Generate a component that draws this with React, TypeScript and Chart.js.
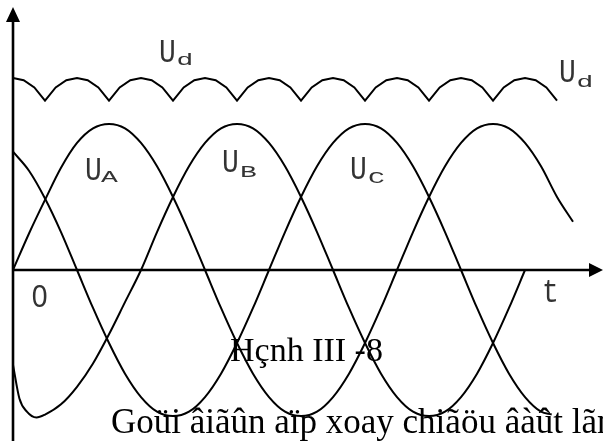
import React, { useEffect, useRef } from "react";
import { Chart, registerables } from "chart.js";

Chart.register(...registerables);

// electrical angle (degrees) and per-unit phase voltages
const ANGLES_UA = [0, 15, 30, 45, 60, 75, 90, 105, 120, 135, 150, 165, 180, 195, 210, 225, 240, 255, 270, 285, 300, 315, 330, 345, 360, 375, 390, 405, 420, 435, 450, 465, 480, 495, 510, 525];
const UA = [0, 0.25, 0.48, 0.7, 0.87, 0.97, 1, 0.97, 0.87, 0.71, 0.5, 0.26, 0, -0.26, -0.5, -0.71, -0.87, -0.97, -1, -0.97, -0.87, -0.71, -0.5, -0.26, 0, 0.26, 0.5, 0.71, 0.87, 0.97, 1, 0.97, 0.87, 0.71, 0.5, 0.33];

const ANGLES_UB = [0, 6, 13, 22, 30, 45, 60, 75, 90, 105, 120, 135, 150, 165, 180, 195, 210, 225, 240, 255, 270, 285, 300, 315, 330, 345, 360, 375, 390, 405, 420, 435, 450, 465, 480];
const UB = [-0.65, -0.88, -0.97, -1.01, -0.99, -0.92, -0.8, -0.64, -0.44, -0.22, 0, 0.26, 0.5, 0.71, 0.87, 0.97, 1, 0.97, 0.87, 0.71, 0.5, 0.26, 0, -0.26, -0.5, -0.71, -0.87, -0.97, -1, -0.97, -0.87, -0.71, -0.5, -0.26, 0];

const ANGLES_UC = [0, 15, 30, 45, 60, 75, 90, 105, 120, 135, 150, 165, 180, 195, 210, 225, 240, 255, 270, 285, 300, 315, 330, 345, 360, 375, 390, 405, 420, 435, 450, 465, 480, 495, 505];
const UC = [0.81, 0.68, 0.49, 0.26, 0, -0.26, -0.5, -0.71, -0.87, -0.97, -1, -0.97, -0.87, -0.71, -0.5, -0.26, 0, 0.26, 0.5, 0.71, 0.87, 0.97, 1, 0.97, 0.87, 0.71, 0.5, 0.26, 0, -0.26, -0.5, -0.71, -0.87, -0.97, -0.99];

const ANGLES_UD = [0, 10, 20, 30, 40, 50, 60, 70, 80, 90, 100, 110, 120, 130, 140, 150, 160, 170, 180, 190, 200, 210, 220, 230, 240, 250, 260, 270, 280, 290, 300, 310, 320, 330, 340, 350, 360, 370, 380, 390, 400, 410, 420, 430, 440, 450, 460, 470, 480, 490, 500, 510];
const UD = [
  1.315, 1.3, 1.25, 1.16, 1.25, 1.3,
  1.315, 1.3, 1.25, 1.16, 1.25, 1.3,
  1.315, 1.3, 1.25, 1.16, 1.25, 1.3,
  1.315, 1.3, 1.25, 1.16, 1.25, 1.3,
  1.315, 1.3, 1.25, 1.16, 1.25, 1.3,
  1.315, 1.3, 1.25, 1.16, 1.25, 1.3,
  1.315, 1.3, 1.25, 1.16, 1.25, 1.3,
  1.315, 1.3, 1.25, 1.16, 1.25, 1.3,
  1.315, 1.3, 1.25, 1.16,
];

const CAPTION = "Hçnh III -8";
const BODY_TEXT = "Goüi âiãûn aïp xoay chiãöu âàût lãn";

const X_MIN = -12.19;
const X_MAX = 553.1;
const Y_MIN = -1.171;
const Y_MAX = 1.849;

const toPts = (xs: number[], ys: number[]) => xs.map((x, i) => ({ x, y: ys[i] }));

function txt(ctx: CanvasRenderingContext2D, s: string, x: number, y: number, font: string, sx = 1, sy = 1) {
  ctx.save();
  ctx.font = font;
  ctx.textBaseline = "alphabetic";
  ctx.textAlign = "left";
  ctx.translate(x, y);
  ctx.scale(sx, sy);
  ctx.fillText(s, 0, 0);
  ctx.restore();
}

const decorPlugin = {
  id: "decor",
  beforeDatasetsDraw(chart: any) {
    const ctx: CanvasRenderingContext2D = chart.ctx;
    const xs = chart.scales.x;
    const ys = chart.scales.y;
    const x0 = xs.getPixelForValue(0);
    const y0 = ys.getPixelForValue(0);
    const { right, bottom } = chart.chartArea;
    ctx.save();
    ctx.strokeStyle = "#000";
    ctx.fillStyle = "#000";
    ctx.lineWidth = 2.6;
    ctx.beginPath();
    ctx.moveTo(x0, bottom);
    ctx.lineTo(x0, 18);
    ctx.stroke();
    ctx.beginPath();
    ctx.moveTo(x0, y0);
    ctx.lineTo(right - 10, y0);
    ctx.stroke();
    ctx.beginPath();
    ctx.moveTo(x0, 7);
    ctx.lineTo(x0 - 7, 22);
    ctx.lineTo(x0 + 7, 22);
    ctx.closePath();
    ctx.fill();
    ctx.beginPath();
    ctx.moveTo(right, y0);
    ctx.lineTo(right - 14, y0 - 7);
    ctx.lineTo(right - 14, y0 + 7);
    ctx.closePath();
    ctx.fill();
    ctx.restore();
  },
  afterDatasetsDraw(chart: any) {
    const ctx: CanvasRenderingContext2D = chart.ctx;
    ctx.save();
    ctx.fillStyle = "#333";
    const mono = "28px 'Liberation Mono'";
    const main = 1.18;
    const sub = 0.62;
    txt(ctx, "U", 159, 62, mono, 1, main);
    txt(ctx, "d", 176.5, 65, mono, 1, sub);
    txt(ctx, "U", 85, 180, mono, 1, main);
    txt(ctx, "A", 101, 182, mono, 1, sub);
    txt(ctx, "U", 222, 172, mono, 1, main);
    txt(ctx, "B", 240, 177, mono, 1, sub);
    txt(ctx, "U", 350, 179, mono, 1, main);
    txt(ctx, "C", 368, 183, mono, 1, sub);
    txt(ctx, "U", 559, 82, mono, 1, main);
    txt(ctx, "d", 576.5, 87, mono, 1, sub);
    txt(ctx, "0", 31.5, 307, "30px 'Noto Sans'", 0.95, 1.02);
    txt(ctx, "t", 542, 302, mono, 1, main);
    ctx.fillStyle = "#000";
    txt(ctx, CAPTION, 230, 361, "34px 'Liberation Serif'");
    txt(ctx, BODY_TEXT, 111, 433, "35px 'Liberation Serif'");
    ctx.restore();
  },
};

export default function App() {
  const ref = useRef<HTMLCanvasElement | null>(null);
  useEffect(() => {
    if (!ref.current) return;
    const line = (data: any[], mode: "monotone" | "default", tension: number) => ({
      data,
      borderColor: "#000",
      borderWidth: 2,
      pointRadius: 0,
      fill: false,
      cubicInterpolationMode: mode,
      tension,
    });
    const chart = new Chart(ref.current, {
      type: "line",
      data: {
        datasets: [
          line(toPts(ANGLES_UD, UD), "default", 0),
          line(toPts(ANGLES_UA, UA), "monotone", 0.4),
          line(toPts(ANGLES_UB, UB), "monotone", 0.4),
          line(toPts(ANGLES_UC, UC), "monotone", 0.4),
        ] as any,
      },
      options: {
        animation: false,
        responsive: false,
        devicePixelRatio: 1,
        layout: { padding: 0 },
        plugins: { legend: { display: false }, tooltip: { enabled: false }, title: { display: false } },
        events: [],
        scales: {
          x: { type: "linear", min: X_MIN, max: X_MAX, display: false },
          y: { type: "linear", min: Y_MIN, max: Y_MAX, display: false },
        },
      },
      plugins: [decorPlugin],
    });
    return () => chart.destroy();
  }, []);
  return (
    <div style={{ position: "fixed", left: 0, top: 0, width: 603, height: 441, background: "#fff" }}>
      <canvas ref={ref} width={603} height={441} style={{ display: "block" }} />
    </div>
  );
}
